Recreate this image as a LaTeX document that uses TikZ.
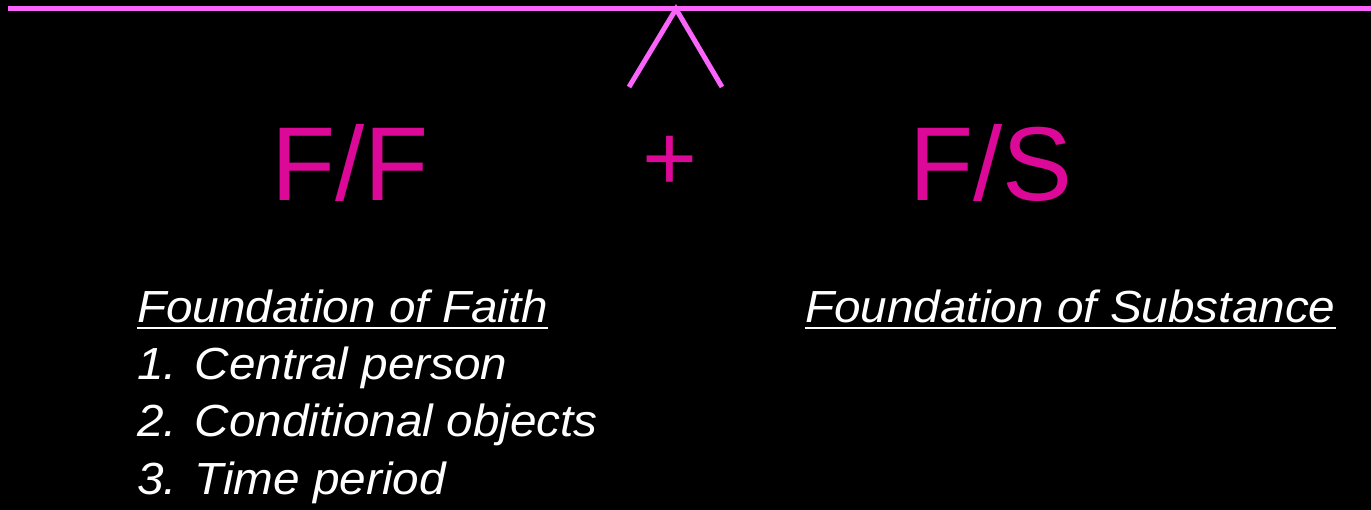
\documentclass[tikz,border=0pt]{standalone}
\usepackage{fontspec}
\setmainfont{Liberation Sans}
\newfontfamily\widesans[FakeStretch=1.06]{Liberation Sans}
\definecolor{linepink}{RGB}{250,100,250}
\definecolor{textpink}{RGB}{219,8,152}
\newcommand\myuline[1]{\setbox0\hbox{#1}\rlap{\rule[-6pt]{\wd0}{2pt}}\box0}
\begin{document}
\begin{tikzpicture}[x=1pt,y=-1pt,
  bigtxt/.style={text=textpink,font=\fontsize{105}{110}\selectfont,inner sep=0pt,anchor=base},
  plustxt/.style={text=textpink,font=\fontsize{94}{100}\selectfont,inner sep=0pt,anchor=center},
  smalltxt/.style={text=white,font=\widesans\fontsize{45}{52}\selectfont\itshape,inner sep=0pt,anchor=base west},
  pinkline/.style={draw=linepink,line width=5pt}]
\fill[black] (0,0) rectangle (1371,510);
\useasboundingbox (0,0) rectangle (1371,510);
\coordinate (lstart) at (8,9);
\coordinate (lend) at (1371,9);
\coordinate (apex) at (676,9);
\coordinate (cl) at (629,87);
\coordinate (cr) at (722,87);
\draw[pinkline] (lstart) -- (lend);
\draw[pinkline,line join=miter] (cl) -- (apex) -- (cr);
\node[bigtxt] (ff) at (350,201) {F/F};
\node[plustxt] (plus) at (670,163) {+};
\node[bigtxt] (fs) at (991,201) {F/S};
\node[smalltxt] (fof) at (137,323) {\myuline{Foundation of Faith}};
\node[smalltxt] (i1) at (137,380) {1. Central person};
\node[smalltxt] (i2) at (137,437) {2. Conditional objects};
\node[smalltxt] (i3) at (137,494) {3. Time period};
\node[smalltxt] (fos) at (805,323) {\myuline{Foundation of Substance}};
\end{tikzpicture}
\end{document}
